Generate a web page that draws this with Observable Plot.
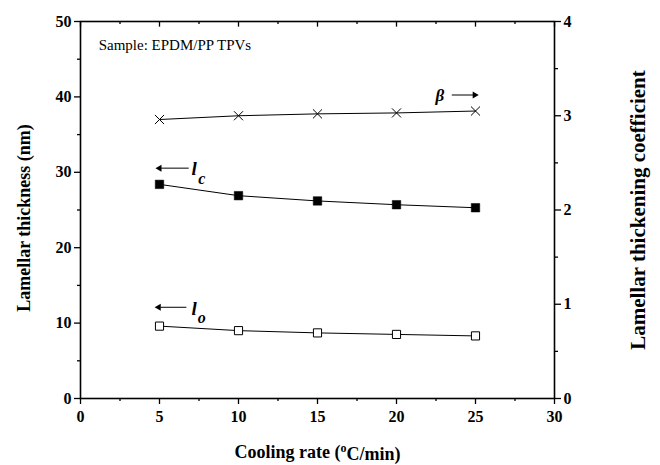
<!DOCTYPE html>
<html><head><meta charset="utf-8">
<script src="https://cdn.jsdelivr.net/npm/d3@7"></script>
<script src="https://cdn.jsdelivr.net/npm/@observablehq/plot@0.6"></script>
<style>body{margin:0;background:#fff}</style>
</head><body><div id="chart"></div>
<script>
const coolingRate = [5, 10, 15, 20, 25];
const lc = [28.4, 26.9, 26.2, 25.7, 25.3];
const lo = [9.6, 9.0, 8.7, 8.5, 8.3];
const beta = [2.96, 3.0, 3.02, 3.03, 3.05];
const xTicks = [0, 5, 10, 15, 20, 25, 30];
const xMinor = [2.5, 7.5, 12.5, 17.5, 22.5, 27.5];
const yTicks = [0, 10, 20, 30, 40, 50];
const yMinor = [5, 15, 25, 35, 45];
const betaTicks = [0, 1, 2, 3, 4];
const betaMinor = [0.5, 1.5, 2.5, 3.5];

const k = 50 / 4; // right axis (0–4) onto left axis (0–50)
const rows = coolingRate.map((x, i) => ({x, lc: lc[i], lo: lo[i], beta: beta[i] * k}));
const font = "Liberation Serif, Times New Roman, serif";

const plot = Plot.plot({
  width: 660, height: 465,
  marginLeft: 80, marginRight: 106, marginTop: 21, marginBottom: 67,
  style: {fontFamily: font, color: "black", background: "white"},
  x: {domain: [0, 30]},
  y: {domain: [0, 50]},
  marks: [
    Plot.axisX({ticks: xTicks, tickSize: 6, tickPadding: 6, fontSize: 16, fontWeight: "bold", label: null, strokeWidth: 1.3}),
    Plot.axisX({ticks: xMinor, tickSize: 3, tickFormat: () => "", label: null, strokeWidth: 1.3}),
    Plot.ruleX(xTicks, {x: d => d, y1: 50, y2: 49.25, stroke: "black", strokeWidth: 1.3}),
    Plot.ruleX(xMinor, {x: d => d, y1: 50, y2: 49.6, stroke: "black", strokeWidth: 1.3}),
    Plot.axisY({ticks: yTicks, tickSize: 6, tickPadding: 3, fontSize: 16, fontWeight: "bold", label: null, strokeWidth: 1.3}),
    Plot.axisY({ticks: yMinor, tickSize: 3, tickFormat: () => "", label: null, strokeWidth: 1.3}),
    Plot.axisY({anchor: "right", ticks: betaTicks.map(v => v * k), tickFormat: d => d / k, tickSize: 6, tickPadding: 3, fontSize: 16, fontWeight: "bold", label: null, strokeWidth: 1.3}),
    Plot.axisY({anchor: "right", ticks: betaMinor.map(v => v * k), tickSize: 3, tickFormat: () => "", label: null, strokeWidth: 1.3}),
    Plot.frame({stroke: "black", strokeWidth: 1.6}),

    Plot.line(rows, {x: "x", y: "beta", stroke: "black", strokeWidth: 1}),
    Plot.line(rows, {x: "x", y: "lc", stroke: "black", strokeWidth: 1}),
    Plot.line(rows, {x: "x", y: "lo", stroke: "black", strokeWidth: 1}),
    Plot.dot(rows, {x: "x", y: "beta", symbol: "times", r: 4.2, stroke: "black", strokeWidth: 1, fill: "white"}),
    Plot.dot(rows, {x: "x", y: "lc", symbol: "square", r: 4.8, fill: "black", stroke: "black", strokeWidth: 0.5}),
    Plot.dot(rows, {x: "x", y: "lo", symbol: "square", r: 4.6, fill: "white", stroke: "black", strokeWidth: 1}),

    // annotations
    Plot.text(["Sample: EPDM/PP TPVs"], {x: 1.15, y: 46.8, textAnchor: "start", fontSize: 15, fill: "black"}),
    Plot.text(["β"], {x: 22.75, y: 40.2, fontSize: 17, fontWeight: "bold", fontStyle: "italic", fill: "black"}),
    Plot.link([0], {x1: 23.5, y1: 40.25, x2: 24.9, y2: 40.25, stroke: "black", strokeWidth: 1}),
    Plot.dot([0], {x: 24.95, y: 40.25, symbol: "triangle", rotate: 90, r: 2.6, fill: "black"}),

    Plot.link([0], {x1: 5.1, y1: 30.55, x2: 6.85, y2: 30.55, stroke: "black", strokeWidth: 1}),
    Plot.dot([0], {x: 5.0, y: 30.55, symbol: "triangle", rotate: -90, r: 2.6, fill: "black"}),
    Plot.text(["l"], {x: 7.2, y: 30.4, fontSize: 19, fontWeight: "bold", fontStyle: "italic", fill: "black"}),
    Plot.text(["c"], {x: 7.68, y: 29.1, fontSize: 16, fontWeight: "bold", fontStyle: "italic", fill: "black"}),

    Plot.link([0], {x1: 5.05, y1: 12.1, x2: 6.7, y2: 12.1, stroke: "black", strokeWidth: 1}),
    Plot.dot([0], {x: 4.95, y: 12.1, symbol: "triangle", rotate: -90, r: 2.6, fill: "black"}),
    Plot.text(["l"], {x: 7.2, y: 11.9, fontSize: 19, fontWeight: "bold", fontStyle: "italic", fill: "black"}),
    Plot.text(["o"], {x: 7.68, y: 10.7, fontSize: 16, fontWeight: "bold", fontStyle: "italic", fill: "black"}),

    // axis titles
    Plot.text(["Lamellar thickness (nm)"], {frameAnchor: "left", dx: -56, dy: 8, rotate: -90, textAnchor: "middle", fontSize: 18, fontWeight: "bold", fill: "black"}),
    Plot.text(["Lamellar thickening coefficient"], {frameAnchor: "right", dx: 84, rotate: -90, textAnchor: "middle", fontSize: 21, fontWeight: "bold", fill: "black"}),
    Plot.text(["Cooling rate (oC/min)"], {frameAnchor: "bottom", dy: 59, textAnchor: "middle", fontSize: 18, fontWeight: "bold", fill: "black", className: "xlabel"})
  ]
});
document.getElementById("chart").appendChild(plot);

// superscript "o" in the x-axis title
const t = d3.select(plot).select("g.xlabel text");
if (!t.empty()) {
  t.text(null);
  t.append("tspan").text("Cooling rate (");
  t.append("tspan").attr("dy", "-0.45em").attr("font-size", 12).text("o");
  t.append("tspan").attr("dy", "0.45em").text("C/min)");
}
</script>
</body></html>
